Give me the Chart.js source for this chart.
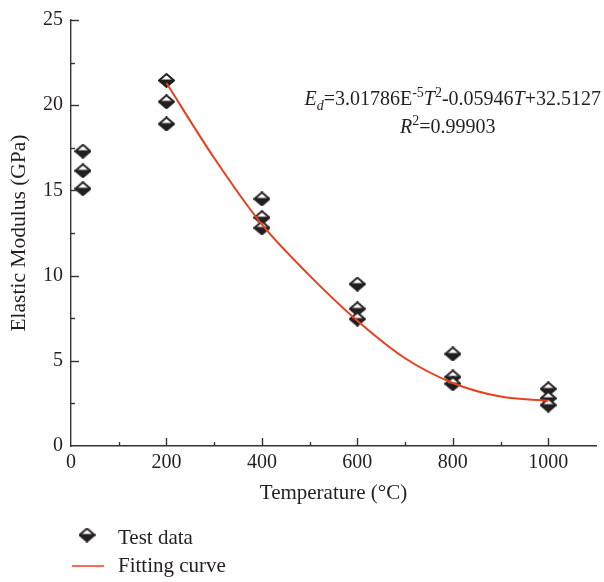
<!DOCTYPE html>
<html><head><meta charset="utf-8">
<script src="https://cdn.jsdelivr.net/npm/chart.js@4/dist/chart.umd.min.js"></script>
<style>html,body{margin:0;padding:0;background:#fff}#wrap{width:604px;height:582px;position:relative}</style>
</head><body><div id="wrap"><canvas id="c"></canvas></div>
<script>
// ---- data ----
const temperatures = [25, 200, 400, 600, 800, 1000];
const modulusHigh = [17.3, 21.45, 14.5, 9.5, 5.4, 3.35];
const modulusMid  = [16.15, 20.2, 13.4, 8.05, 4.05, 2.8];
const modulusLow  = [15.1, 18.9, 12.8, 7.45, 3.65, 2.4];
const fitTemperatures = [200, 300, 400, 500, 600, 700, 800, 900, 1000];
const fitModulus = [21.3, 16.9, 13.0, 10.0, 7.35, 5.15, 3.7, 2.9, 2.65];
const xTickValues = [0, 200, 400, 600, 800, 1000];
const yTickValues = [0, 5, 10, 15, 20, 25];
const seriesLabels = ['Test data', 'Fitting curve'];
const xTitle = 'Temperature (°C)';
const yTitle = 'Elastic Modulus (GPa)';
const equationLine1 = [
  {t:'E', it:true}, {t:'d', it:true, sub:true}, {t:'=3.01786E'}, {t:'-5', sup:true},
  {t:'T', it:true}, {t:'2', sup:true}, {t:'-0.05946'}, {t:'T', it:true}, {t:'+32.5127'}
];
const equationLine2 = [{t:'R', it:true}, {t:'2', sup:true}, {t:'=0.99903'}];

const FONT = "'Liberation Serif', 'Times New Roman', serif";
const INK = '#231f20';
const RED = '#e8401e';

function makeDiamond(w, h) {
  const c = document.createElement('canvas');
  c.width = w + 2; c.height = h + 2;
  const g = c.getContext('2d');
  const cx = (w + 2) / 2, cy = (h + 2) / 2;
  const path = () => { g.beginPath(); g.moveTo(cx, 1); g.lineTo(w + 1, cy); g.lineTo(cx, h + 1); g.lineTo(1, cy); g.closePath(); };
  path(); g.fillStyle = '#fff'; g.fill();
  g.save(); path(); g.clip();
  g.fillStyle = INK; g.fillRect(0, cy - 1, w + 2, h + 2);
  g.restore();
  path(); g.lineWidth = 1.9; g.strokeStyle = INK; g.lineJoin = 'miter'; g.stroke();
  return c;
}
const diamond = makeDiamond(15, 13);

const testPoints = [];
temperatures.forEach((t, i) => {
  testPoints.push({x: t, y: modulusHigh[i]}, {x: t, y: modulusMid[i]}, {x: t, y: modulusLow[i]});
});
const fitPoints = fitTemperatures.map((t, i) => ({x: t, y: fitModulus[i]}));

function drawRich(ctx, segs, x, y, align) {
  let total = 0;
  const fontFor = s => (s.it ? 'italic ' : '') + ((s.sub || s.sup) ? 14 : 20) + 'px ' + FONT;
  segs.forEach(s => { ctx.font = fontFor(s); s.w = ctx.measureText(s.t).width; total += s.w; });
  let cx = align === 'right' ? x - total : x;
  ctx.textBaseline = 'alphabetic'; ctx.textAlign = 'left';
  segs.forEach(s => {
    ctx.font = fontFor(s);
    const dy = s.sub ? 5 : (s.sup ? -8 : 0);
    ctx.fillText(s.t, cx, y + dy);
    cx += s.w;
  });
}

const decorPlugin = {
  id: 'decor',
  afterDraw(chart) {
    const ctx = chart.ctx;
    const xs = chart.scales.x, ys = chart.scales.y;
    const left = chart.chartArea.left, bottom = chart.chartArea.bottom;
    ctx.save();
    ctx.strokeStyle = '#333'; ctx.lineWidth = 1.4;
    for (let v = 100; v <= 1000; v += 100) {
      const px = Math.round(xs.getPixelForValue(v)) + 0.5;
      const len = (v % 200 === 0) ? 8 : 4;
      ctx.beginPath(); ctx.moveTo(px, bottom); ctx.lineTo(px, bottom - len); ctx.stroke();
    }
    for (let v = 2.5; v <= 25; v += 2.5) {
      const py = Math.round(ys.getPixelForValue(v)) + 0.5;
      const len = (v % 5 === 0) ? 8 : 4;
      ctx.beginPath(); ctx.moveTo(left, py); ctx.lineTo(left + len, py); ctx.stroke();
    }
    ctx.fillStyle = INK;
    drawRich(ctx, equationLine1, 601, 105, 'right');
    drawRich(ctx, equationLine2, 400, 133, 'left');
    ctx.drawImage(diamond, 87 - diamond.width / 2, 535 - diamond.height / 2);
    ctx.font = '21px ' + FONT; ctx.textBaseline = 'middle'; ctx.textAlign = 'left';
    ctx.fillText(seriesLabels[0], 118, 538);
    ctx.strokeStyle = RED; ctx.lineWidth = 1.5;
    ctx.beginPath(); ctx.moveTo(72, 566); ctx.lineTo(104, 566); ctx.stroke();
    ctx.fillText(seriesLabels[1], 118, 566);
    ctx.restore();
  }
};

new Chart(document.getElementById('c'), {
  type: 'scatter',
  data: {
    datasets: [
      { label: seriesLabels[1], data: fitPoints, showLine: true, borderColor: RED, borderWidth: 2,
        pointRadius: 0, cubicInterpolationMode: 'monotone', order: 0 },
      { label: seriesLabels[0], data: testPoints, pointStyle: diamond, pointRadius: 7, order: 1 }
    ]
  },
  options: {
    responsive: true, maintainAspectRatio: false, animation: false,
    layout: { padding: { left: 0, top: 14, right: 1, bottom: 76 } },
    plugins: { legend: { display: false }, tooltip: { enabled: false } },
    scales: {
      x: {
        type: 'linear', min: 0, max: 1100,
        afterBuildTicks: s => { s.ticks = xTickValues.map(v => ({value: v})); },
        afterFit: s => { s.height = 60; },
        grid: { display: false, drawTicks: false, tickLength: 0 },
        border: { display: true, color: '#333', width: 1.4 },
        ticks: { color: INK, padding: 5, font: { family: FONT, size: 20 }, maxRotation: 0, autoSkip: false,
                 callback: v => String(v) },
        title: { display: true, text: xTitle, color: INK, padding: { top: 0, bottom: 0 }, font: { family: FONT, size: 21 } }
      },
      y: {
        type: 'linear', min: 0, max: 25,
        afterBuildTicks: s => { s.ticks = yTickValues.map(v => ({value: v})); },
        afterFit: s => { s.width = 71; },
        grid: { display: false, drawTicks: false, tickLength: 0 },
        border: { display: true, color: '#333', width: 1.4 },
        ticks: { color: INK, padding: 8, font: { family: FONT, size: 20 }, autoSkip: false,
                 callback: v => String(v) },
        title: { display: true, text: yTitle, color: INK, padding: { top: 6, bottom: 0 }, font: { family: FONT, size: 21.5 } }
      }
    }
  },
  plugins: [decorPlugin]
});
</script></body></html>
